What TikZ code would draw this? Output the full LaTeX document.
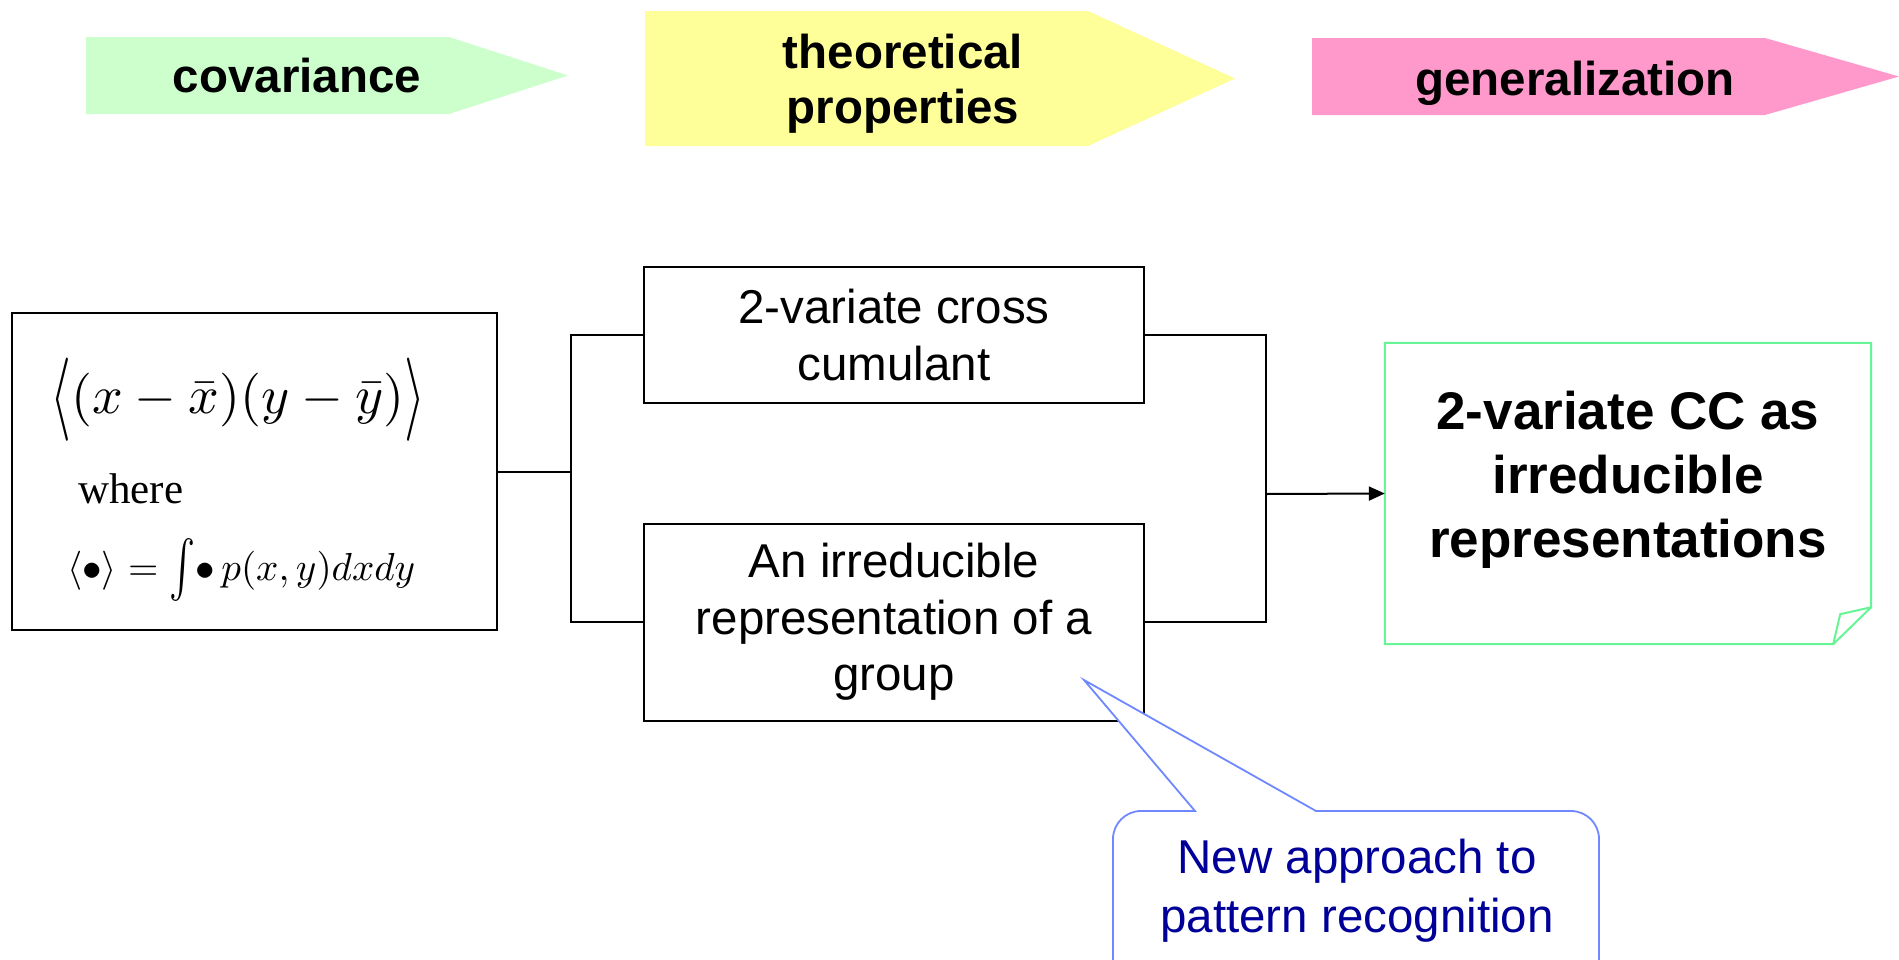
\documentclass[tikz,border=0pt]{standalone}
\usepackage[no-math]{fontspec}
\setmainfont{Liberation Sans}
\newfontfamily\seriffont{Liberation Serif}
\usepackage{graphicx}
\usetikzlibrary{arrows.meta}
\definecolor{covgreen}{HTML}{CCFFCC}
\definecolor{theoyellow}{HTML}{FFFF99}
\definecolor{genpink}{HTML}{FF99CC}
\definecolor{notegreen}{HTML}{66F595}
\definecolor{callblue}{HTML}{7088FF}
\definecolor{calltext}{HTML}{000099}
\newcommand{\tallsym}[2]{\vcenter{\hbox{\scalebox{1}[#1]{$#2$}}}}
\tikzset{
  banner/.style={fill=#1, draw=none},
  bannertext/.style={font=\bfseries\fontsize{47.5}{55}\selectfont, inner sep=0pt, align=center},
  plainbox/.style={draw=black, line width=2pt, inner sep=0pt, align=center,
    font=\fontsize{47.5}{56.5}\selectfont},
  wire/.style={draw=black, line width=2pt},
}
\begin{document}
\begin{tikzpicture}[x=1pt,y=-1pt]
\useasboundingbox (0,0) rectangle (1899,959);
\fill[white] (0,0) rectangle (1899,959);

% top banners
\fill[banner=covgreen] (86,37) -- (449,37) -- (568,75.5) -- (449,114) -- (86,114) -- cycle;
\node[bannertext, anchor=base] (cov) at (297,92) {covariance};
\fill[banner=theoyellow] (645,11) -- (1088,11) -- (1235,78.5) -- (1088,146) -- (645,146) -- cycle;
\node[bannertext] (theo) at (903,84) {theoretical\\properties};
\fill[banner=genpink] (1312,38) -- (1765,38) -- (1899,76.5) -- (1765,115) -- (1312,115) -- cycle;
\node[bannertext, anchor=base] (gen) at (1575,95) {generalization};

% left formula box
\node[draw=black, line width=2pt, minimum width=485pt, minimum height=317pt, inner sep=0pt] (lbox) at (254.5,471.5) {};
\node[anchor=base west, inner sep=0pt] (f1) at (50,413)
  {\resizebox{375pt}{!}{$\mathopen{\tallsym{1.55}{\langle}}(x-\bar{x})(y-\bar{y})\mathclose{\tallsym{1.55}{\rangle}}$}};
\node[anchor=base west, inner sep=0pt, font=\seriffont\fontsize{43}{50}\selectfont] (wh) at (78,503) {where};
\node[anchor=base west, inner sep=0pt] (f2) at (67,580)
  {\resizebox{348pt}{!}{$\langle\bullet\rangle = \mathop{\tallsym{1.45}{\int}}\!\bullet\, p(x,y)dxdy$}};

% middle boxes
\node[plainbox, minimum width=500pt, minimum height=136pt] (top) at (894,335) {2-variate cross\\cumulant};
\node[plainbox, minimum width=500pt, minimum height=197pt] (bot) at (894,622) {An irreducible\\representation of a\\group};

% right note box
\node[minimum width=486pt, minimum height=301pt, inner sep=0pt] (gbox) at (1628,493.5) {};
\draw[notegreen, line width=2pt, line join=miter]
  (gbox.north west) -- (gbox.north east) -- ([yshift=37pt]gbox.south east)
  -- ([xshift=-38pt]gbox.south east) -- (gbox.south west) -- cycle;
\draw[notegreen, line width=2pt]
  ([yshift=37pt]gbox.south east) -- ([xshift=-31pt,yshift=30pt]gbox.south east) -- ([xshift=-38pt]gbox.south east);
\node[font=\bfseries\fontsize{53}{64}\selectfont, align=center, inner sep=0pt] (gtext) at (1628,480)
  {2-variate CC as\\irreducible\\representations};

% connectors
\coordinate (lj) at (571,471.5);
\coordinate (rj) at (1266,494);
\draw[wire] (lbox.east) -- (lj);
\draw[wire] (top.west) -| (lj) |- (bot.west);
\draw[wire] (top.east) -| (rj) |- (bot.east);
\draw[wire, -{Triangle[length=16pt,width=14pt]}] (rj) -- (gbox.west);

% callout
\coordinate (tip) at (1084,680);
\draw[callblue, line width=1.8pt, fill=white, line join=miter]
  (1195,811) -- (tip) -- (1316,811) -- (1571,811)
  arc[start angle=-90, end angle=0, radius=28] -- (1599,1000) -- (1113,1000)
  -- (1113,839) arc[start angle=180, end angle=270, radius=28] -- cycle;
\node[font=\fontsize{47.5}{59}\selectfont, text=calltext, align=center, inner sep=0pt] (callout) at (1357,890.5)
  {New approach to\\pattern recognition};
\end{tikzpicture}
\end{document}
